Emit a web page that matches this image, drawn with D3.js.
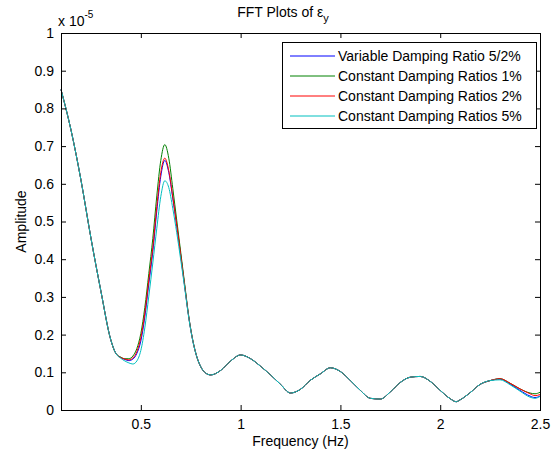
<!DOCTYPE html>
<html>
<head>
<meta charset="utf-8">
<script src="https://cdn.jsdelivr.net/npm/d3@7"></script>
<style>
  html, body { margin: 0; padding: 0; background: #fff; }
  svg { display: block; }
  text { font-family: Arial, "Liberation Sans", Helvetica, sans-serif; fill: #000; }
</style>
</head>
<body>
<svg id="chart" width="556" height="452"></svg>
<script>
// Frequency samples (Hz)
const freq = [0.10,0.15,0.20,0.25,0.30,0.35,0.375,0.40,0.42,0.44,0.46,0.48,0.50,0.52,0.54,0.56,0.58,0.60,0.62,0.64,0.66,0.68,0.70,0.72,0.74,0.76,0.78,0.80,0.82,0.85,0.90,0.95,1.00,1.05,1.10,1.15,1.20,1.25,1.30,1.35,1.40,1.45,1.50,1.55,1.60,1.65,1.70,1.75,1.80,1.85,1.90,1.95,2.00,2.05,2.08,2.10,2.15,2.20,2.25,2.30,2.35,2.40,2.45,2.475,2.50];

// Amplitudes, in units of 1e-5
const variable52 = [0.850,0.743,0.610,0.456,0.315,0.185,0.150,0.139,0.134,0.131,0.135,0.150,0.183,0.247,0.335,0.420,0.528,0.620,0.662,0.630,0.562,0.488,0.409,0.327,0.247,0.185,0.142,0.115,0.100,0.093,0.105,0.130,0.146,0.136,0.116,0.093,0.068,0.045,0.055,0.079,0.096,0.112,0.102,0.078,0.052,0.031,0.029,0.048,0.073,0.087,0.089,0.076,0.052,0.030,0.022,0.027,0.046,0.068,0.078,0.082,0.069,0.052,0.037,0.033,0.037];
const constant1 = [0.850,0.743,0.610,0.456,0.315,0.185,0.150,0.140,0.136,0.136,0.143,0.163,0.203,0.272,0.362,0.455,0.568,0.662,0.704,0.668,0.588,0.503,0.418,0.333,0.249,0.186,0.142,0.115,0.100,0.093,0.105,0.130,0.146,0.136,0.116,0.093,0.068,0.045,0.055,0.079,0.096,0.112,0.102,0.078,0.052,0.031,0.029,0.048,0.073,0.087,0.089,0.076,0.052,0.030,0.022,0.027,0.046,0.068,0.078,0.083,0.071,0.056,0.045,0.043,0.047];
const constant2 = [0.850,0.743,0.610,0.456,0.315,0.185,0.150,0.139,0.135,0.133,0.138,0.155,0.192,0.257,0.345,0.430,0.540,0.630,0.668,0.635,0.565,0.490,0.410,0.328,0.247,0.185,0.142,0.115,0.100,0.093,0.105,0.130,0.146,0.136,0.116,0.093,0.068,0.045,0.055,0.079,0.096,0.112,0.102,0.078,0.052,0.031,0.029,0.048,0.073,0.087,0.089,0.076,0.052,0.030,0.022,0.027,0.046,0.068,0.078,0.083,0.071,0.056,0.043,0.038,0.041];
const constant5 = [0.850,0.743,0.610,0.456,0.315,0.185,0.150,0.137,0.130,0.125,0.122,0.130,0.158,0.218,0.302,0.390,0.482,0.566,0.608,0.590,0.535,0.470,0.398,0.323,0.245,0.184,0.142,0.115,0.100,0.093,0.105,0.130,0.146,0.136,0.116,0.093,0.068,0.045,0.055,0.079,0.096,0.112,0.102,0.078,0.052,0.031,0.029,0.048,0.073,0.087,0.089,0.076,0.052,0.030,0.022,0.027,0.046,0.068,0.078,0.080,0.067,0.050,0.034,0.031,0.036];

const seriesNames = ["Variable Damping Ratio 5/2%","Constant Damping Ratios 1%","Constant Damping Ratios 2%","Constant Damping Ratios 5%"];
const seriesValues = [variable52, constant1, constant2, constant5];
const seriesColors = ["#0000ff","#008000","#ff0000","#00bfbf"];

const xTicks = [0.5, 1, 1.5, 2, 2.5];
const yTicks = [0,0.1,0.2,0.3,0.4,0.5,0.6,0.7,0.8,0.9,1];

const svg = d3.select("#chart");
const L = 61, R = 540, T = 33, B = 410;
const fs = 14;

const x = d3.scaleLinear().domain([0.1, 2.5]).range([L, R]);
const y = d3.scaleLinear().domain([0, 1]).range([B, T]);

// Series lines (first plotted underneath)
const line = d3.line().x(d => x(d[0])).y(d => y(d[1])).curve(d3.curveMonotoneX);
seriesValues.forEach((vals, i) => {
  svg.append("path")
    .datum(freq.map((f, k) => [f, vals[k]]))
    .attr("fill", "none")
    .attr("stroke", seriesColors[i])
    .attr("stroke-width", 1)
    .attr("d", line);
});

// Axes with inward ticks on all four sides
const tl = 5;
const fmt = d => d3.format("~g")(d);
const axB = svg.append("g").attr("transform", `translate(0,${B})`)
  .call(d3.axisBottom(x).tickValues(xTicks).tickSizeInner(-tl).tickSizeOuter(0).tickPadding(9).tickFormat(fmt));
const axT = svg.append("g").attr("transform", `translate(0,${T})`)
  .call(d3.axisTop(x).tickValues(xTicks).tickSizeInner(-tl).tickSizeOuter(0).tickFormat(""));
const axL = svg.append("g").attr("transform", `translate(${L},0)`)
  .call(d3.axisLeft(y).tickValues(yTicks).tickSizeInner(-tl).tickSizeOuter(0).tickPadding(7).tickFormat(fmt));
const axR = svg.append("g").attr("transform", `translate(${R},0)`)
  .call(d3.axisRight(y).tickValues(yTicks).tickSizeInner(-tl).tickSizeOuter(0).tickFormat(""));
[axB, axT, axL, axR].forEach(g => {
  g.select(".domain").remove();
  g.selectAll("line").attr("stroke", "#000");
  g.selectAll("text").attr("font-size", fs).attr("font-family", "Arial, 'Liberation Sans', sans-serif").attr("fill", "#000");
});
axB.selectAll(".tick").filter(d => d === 2.5).select("line").remove();

svg.append("rect")
  .attr("x", L).attr("y", T).attr("width", R - L).attr("height", B - T)
  .attr("fill", "none").attr("stroke", "#000").attr("stroke-width", 1)
  .attr("shape-rendering", "crispEdges");

// Exponent label
const ex = svg.append("text").attr("x", L - 3).attr("y", 26).attr("font-size", fs);
ex.append("tspan").text("x 10");
ex.append("tspan").attr("dy", -8).attr("font-size", 10).text("-5");

// Title
const title = svg.append("text").attr("x", 283).attr("y", 17).attr("text-anchor", "middle").attr("font-size", fs);
title.append("tspan").text("FFT Plots of ε");
title.append("tspan").attr("dy", 5).attr("font-size", 11).text("y");

// Axis labels
svg.append("text").attr("x", (L + R) / 2).attr("y", 446).attr("text-anchor", "middle")
  .attr("font-size", fs).text("Frequency (Hz)");
svg.append("text").attr("transform", `translate(26,${(T + B) / 2}) rotate(-90)`)
  .attr("text-anchor", "middle").attr("font-size", fs).text("Amplitude");

// Legend
const lg = svg.append("g");
lg.append("rect").attr("x", 282).attr("y", 42).attr("width", 254).attr("height", 86)
  .attr("fill", "#fff").attr("stroke", "#000").attr("stroke-width", 1).attr("shape-rendering", "crispEdges");
seriesNames.forEach((name, i) => {
  const yy = 56 + i * 20;
  lg.append("line").attr("x1", 290).attr("x2", 335).attr("y1", yy).attr("y2", yy)
    .attr("stroke", seriesColors[i]).attr("stroke-width", 1);
  lg.append("text").attr("x", 338).attr("y", yy + 5).attr("font-size", fs).text(name);
});
</script>
</body>
</html>
